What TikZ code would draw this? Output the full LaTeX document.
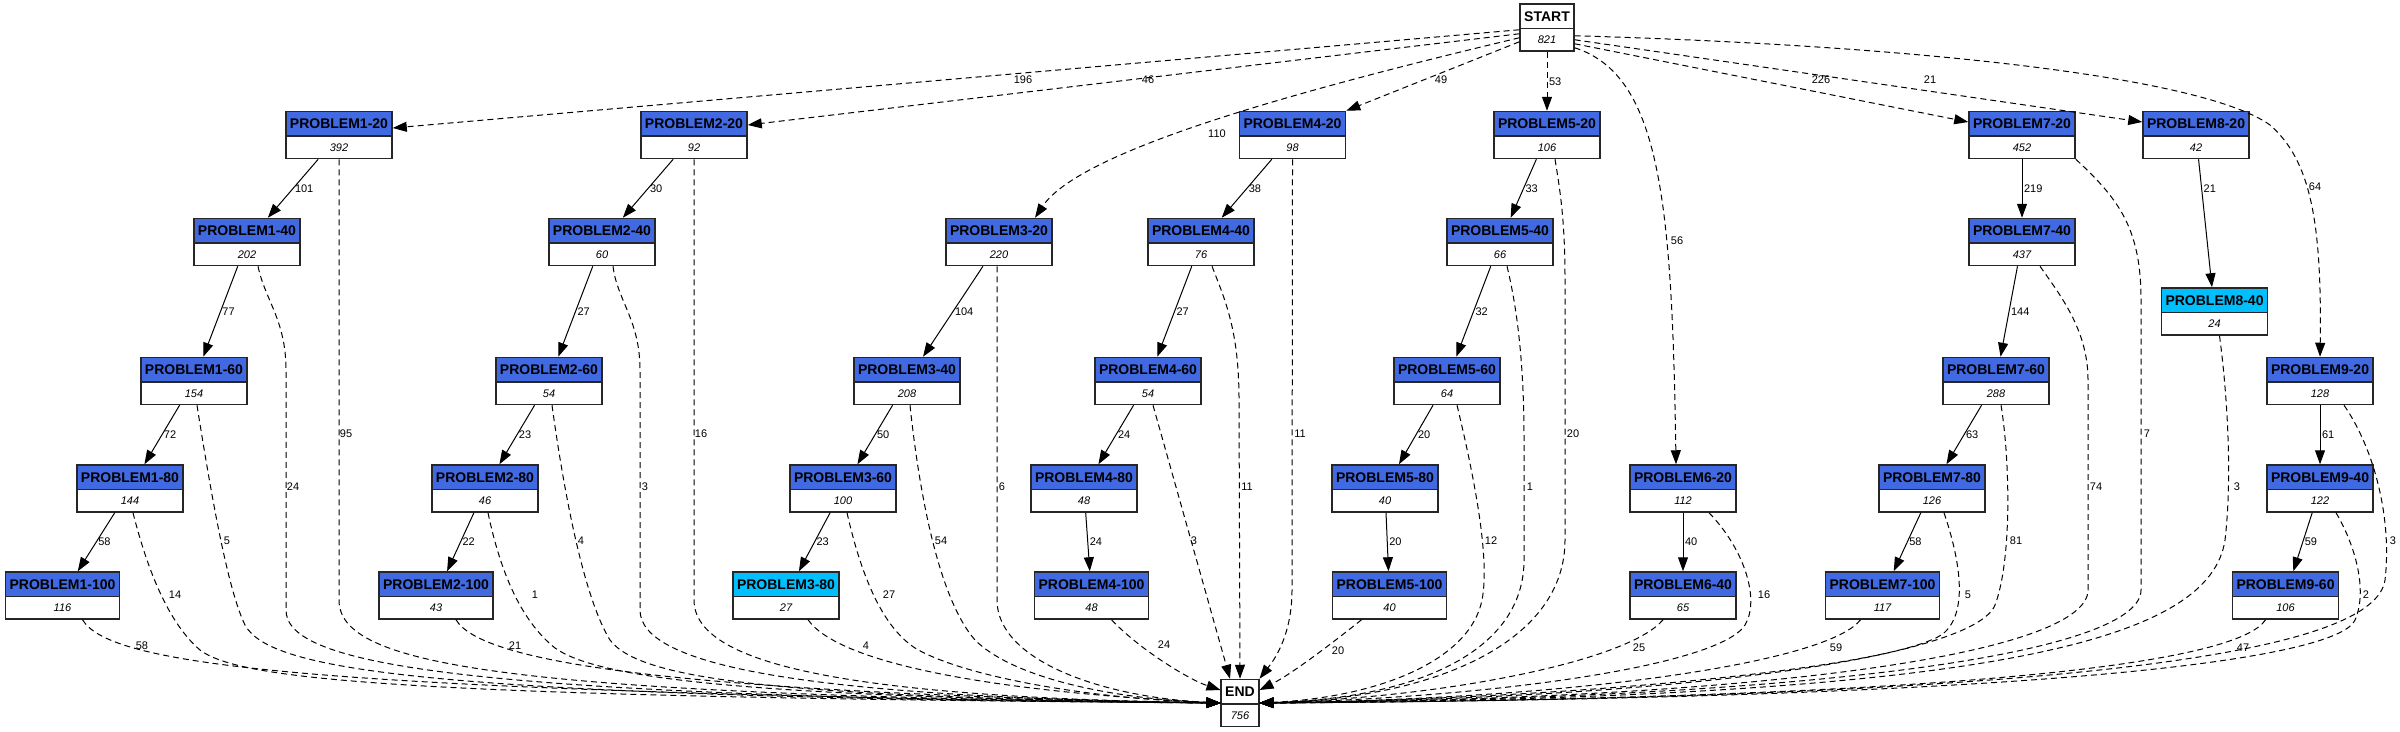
\documentclass[tikz,border=0pt]{standalone}
\usepackage{fontspec}
\setmainfont{Liberation Sans}
\usetikzlibrary{arrows.meta,shapes.multipart}
\definecolor{royal}{RGB}{65,105,225}
\definecolor{deepsky}{RGB}{0,191,255}
\newcommand{\probname}[1]{{\fontsize{14}{16}\selectfont\bfseries\rule[-6.5pt]{0pt}{23pt}#1}}
\newcommand{\probval}[1]{{\fontsize{11}{13}\selectfont\itshape\rule[-6.5pt]{0pt}{21pt}#1}}

\begin{document}
\begin{tikzpicture}[x=1pt,y=-1pt,
    prob/.style={rectangle split, rectangle split parts=2, draw=black!85, line width=1.5pt,
        inner xsep=4pt, inner ysep=0pt, rectangle split part fill={royal,white}},
    term/.style={prob, rectangle split part fill={white,white}},
    link/.style={line width=1pt, -{Triangle[length=14pt,width=10pt]}},
    dlink/.style={link, dash pattern=on 6pt off 4pt},
    lbl/.style={font=\fontsize{11}{13}\selectfont, inner sep=1.5pt}]

    \useasboundingbox (0,0) rectangle (2400,731);
    \fill[white] (0,0) rectangle (2400,731);

    % start and end
    \node[term] (start) at (1547,27.5) {\probname{START}\nodepart{two}\probval{821}};
    \node[term] (endbox) at (1240,703) {\probname{END}\nodepart{two}\probval{756}};

    % problem boxes
    \foreach \n/\x/\y/\v/\hue in {
            1-20/339/135/392/royal, 2-20/694/135/92/royal, 4-20/1292.5/135/98/royal,
            5-20/1547/135/106/royal, 7-20/2022/135/452/royal, 8-20/2196/135/42/royal,
            1-40/247/242/202/royal, 2-40/602/242/60/royal, 3-20/999/242/220/royal,
            4-40/1201/242/76/royal, 5-40/1500/242/66/royal, 7-40/2022/242/437/royal,
            8-40/2214.5/311.5/24/deepsky,
            1-60/194/381/154/royal, 2-60/549/381/54/royal, 3-40/907/381/208/royal,
            4-60/1148/381/54/royal, 5-60/1447/381/64/royal, 7-60/1996/381/288/royal,
            9-20/2320/381/128/royal,
            1-80/130/488.5/144/royal, 2-80/485/488.5/46/royal, 3-60/843/488.5/100/royal,
            4-80/1084/488.5/48/royal, 5-80/1385/488.5/40/royal, 6-20/1683/488.5/112/royal,
            7-80/1932/488.5/126/royal, 9-40/2320/488.5/122/royal,
            1-100/62.5/595.5/116/royal, 2-100/436/595.5/43/royal, 3-80/786/595.5/27/deepsky,
            4-100/1091.5/595.5/48/royal, 5-100/1389.5/595.5/40/royal, 6-40/1683/595.5/65/royal,
            7-100/1882.5/595.5/117/royal, 9-60/2285.5/595.5/106/royal} {
            \node[prob, rectangle split part fill={\hue,white}] (p\n) at (\x,\y)
                {\probname{PROBLEM\n}\nodepart{two}\probval{\v}};
        }

    % from START
    \draw[dlink] ([yshift=22pt]start.south west) -- ([yshift=7pt]p1-20.east) node[lbl] at (1023,80) {196};
    \draw[dlink] ([yshift=18pt]start.south west) -- ([yshift=10pt]p2-20.east) node[lbl] at (1148,80) {46};
    \draw[dlink] ([yshift=14pt]start.south west) .. controls (1300,90) and (1080,150) .. ([xshift=36pt]p3-20.north) node[lbl] at (1217,134) {110};
    \draw[dlink] ([yshift=10pt]start.south west) -- (p4-20.north east) node[lbl] at (1441,80) {49};
    \draw[dlink] (start) -- node[lbl,right] {53} (p5-20);
    \draw[dlink] ([yshift=4pt]start.south east) .. controls (1660,75) and (1672,200) .. ([xshift=-7pt]p6-20.north) node[lbl] at (1677,241) {56};
    \draw[dlink] ([yshift=8pt]start.south east) -- ([yshift=13pt]p7-20.west) node[lbl] at (1821,80) {226};
    \draw[dlink] ([yshift=12pt]start.south east) -- ([yshift=13pt]p8-20.west) node[lbl] at (1930,80) {21};
    \draw[dlink] ([yshift=16pt]start.south east) .. controls (1900,45) and (2200,75) .. (2270,125)
        .. controls (2310,160) and (2322,220) .. (p9-20.north) node[lbl] at (2315,187) {64};

    % next stage
    \foreach \a/\b/\n in {p1-20/p1-40/101, p1-40/p1-60/77, p1-60/p1-80/72, p1-80/p1-100/58,
            p2-20/p2-40/30, p2-40/p2-60/27, p2-60/p2-80/23, p2-80/p2-100/22,
            p3-20/p3-40/104, p3-40/p3-60/50, p3-60/p3-80/23,
            p4-20/p4-40/38, p4-40/p4-60/27, p4-60/p4-80/24, p4-80/p4-100/24,
            p5-20/p5-40/33, p5-40/p5-60/32, p5-60/p5-80/20, p5-80/p5-100/20,
            p6-20/p6-40/40, p7-20/p7-40/219, p7-40/p7-60/144, p7-60/p7-80/63, p7-80/p7-100/58,
            p9-20/p9-40/61, p9-40/p9-60/59} {
            \draw[link] (\a) -- node[lbl,right] {\n} (\b);
        }
    \draw[link] (p8-20) -- node[lbl,right,pos=0.23] {21} (p8-40);

    % to END, left side
    \draw[dlink] (p1-20.south) -- (339,600) .. controls (339,665) and (500,695) .. (endbox.west) node[lbl] at (346,434) {95};
    \draw[dlink] ([xshift=11pt]p1-40.south) .. controls (265,300) and (286,320) .. (286,370) -- (286,610)
        .. controls (286,665) and (460,697) .. (endbox.west) node[lbl] at (293,487) {24};
    \draw[dlink] ([xshift=3pt]p1-60.south) .. controls (212,500) and (228,590) .. (245,625)
        .. controls (270,670) and (420,697) .. (endbox.west) node[lbl] at (227,541) {5};
    \draw[dlink] ([xshift=3pt]p1-80.south) .. controls (145,560) and (165,620) .. (200,650)
        .. controls (240,680) and (400,697) .. (endbox.west) node[lbl] at (175,595) {14};
    \draw[dlink] ([xshift=20pt]p1-100.south) .. controls (110,665) and (300,692) .. (endbox.west) node[lbl] at (142,646) {58};
    \draw[dlink] (p2-20.south) -- (694,600) .. controls (694,665) and (850,697) .. (endbox.west) node[lbl] at (701,434) {16};
    \draw[dlink] ([xshift=11pt]p2-40.south) .. controls (617,300) and (640,320) .. (640,370) -- (640,610)
        .. controls (640,665) and (800,697) .. (endbox.west) node[lbl] at (645,487) {3};
    \draw[dlink] ([xshift=3pt]p2-60.south) .. controls (565,500) and (585,600) .. (610,640)
        .. controls (640,680) and (780,697) .. (endbox.west) node[lbl] at (581,541) {4};
    \draw[dlink] ([xshift=3pt]p2-80.south) .. controls (500,570) and (520,620) .. (555,648)
        .. controls (600,680) and (760,697) .. (endbox.west) node[lbl] at (535,595) {1};
    \draw[dlink] ([xshift=20pt]p2-100.south) .. controls (480,660) and (650,692) .. (endbox.west) node[lbl] at (515,646) {21};
    \draw[dlink] ([xshift=-2pt]p3-20.south) -- (997,600) .. controls (997,660) and (1100,697) .. (endbox.west) node[lbl] at (1002,487) {6};
    \draw[dlink] ([xshift=3pt]p3-40.south) .. controls (920,500) and (940,600) .. (975,640)
        .. controls (1010,675) and (1100,698) .. (endbox.west) node[lbl] at (941,541) {54};
    \draw[dlink] ([xshift=4pt]p3-60.south) .. controls (860,570) and (880,625) .. (915,648)
        .. controls (960,675) and (1080,698) .. (endbox.west) node[lbl] at (889,595) {27};
    \draw[dlink] ([xshift=22pt]p3-80.south) .. controls (840,665) and (1000,692) .. (endbox.west) node[lbl] at (866,646) {4};

    % to END, from above
    \draw[dlink] ([xshift=20pt]p4-100.south) .. controls (1140,650) and (1190,680) .. ([yshift=13pt]endbox.west) node[lbl] at (1164,645) {24};
    \draw[dlink] ([xshift=5pt]p4-60.south) -- ([xshift=-10pt]endbox.north) node[lbl] at (1194,541) {3};
    \draw[dlink] ([xshift=11pt]p4-40.south) .. controls (1225,300) and (1239,330) .. (1239,400) -- (endbox.north) node[lbl] at (1247,487) {11};
    \draw[dlink] (p4-20.south) -- (1292,590) .. controls (1292,640) and (1270,665) .. (endbox.north east) node[lbl] at (1300,434) {11};
    \draw[dlink] ([xshift=-28pt]p5-100.south) .. controls (1330,645) and (1290,675) .. ([yshift=13pt]endbox.east) node[lbl] at (1338,651) {20};

    % to END, right side
    \draw[dlink] ([xshift=10pt]p5-60.south) .. controls (1475,480) and (1490,560) .. (1482,600)
        .. controls (1470,660) and (1380,697) .. (endbox.east) node[lbl] at (1491,541) {12};
    \draw[dlink] ([xshift=7pt]p5-40.south) .. controls (1520,320) and (1524,380) .. (1524,440) -- (1524,560)
        .. controls (1524,650) and (1420,698) .. (endbox.east) node[lbl] at (1530,487) {1};
    \draw[dlink] ([xshift=8pt]p5-20.south) .. controls (1560,190) and (1565,220) .. (1565,280) -- (1565,540)
        .. controls (1565,640) and (1440,698) .. (endbox.east) node[lbl] at (1573,434) {20};
    \draw[dlink] ([xshift=26pt]p6-20.south) .. controls (1745,550) and (1760,600) .. (1745,625)
        .. controls (1720,665) and (1500,697) .. (endbox.east) node[lbl] at (1764,595) {16};
    \draw[dlink] ([xshift=-20pt]p6-40.south) .. controls (1630,660) and (1450,697) .. (endbox.east) node[lbl] at (1639,648) {25};
    \draw[dlink] ([xshift=-22pt]p7-100.south) .. controls (1830,660) and (1600,698) .. (endbox.east) node[lbl] at (1836,648) {59};
    \draw[dlink] ([xshift=12pt]p7-80.south) .. controls (1960,560) and (1968,610) .. (1945,632)
        .. controls (1910,665) and (1600,698) .. (endbox.east) node[lbl] at (1968,595) {5};
    \draw[dlink] ([xshift=5pt]p7-60.south) .. controls (2010,460) and (2012,560) .. (1995,605)
        .. controls (1975,655) and (1700,698) .. (endbox.east) node[lbl] at (2016,541) {81};
    \draw[dlink] ([xshift=18pt]p7-40.south) .. controls (2060,295) and (2088,330) .. (2088,380) -- (2088,590)
        .. controls (2088,650) and (1800,698) .. (endbox.east) node[lbl] at (2096,487) {74};
    \draw[dlink] (p7-20.south east) .. controls (2120,200) and (2141,230) .. (2141,300) -- (2141,590)
        .. controls (2141,650) and (1850,698) .. (endbox.east) node[lbl] at (2147,434) {7};
    \draw[dlink] ([xshift=5pt]p8-40.south) .. controls (2228,400) and (2232,480) .. (2225,540)
        .. controls (2210,640) and (2000,698) .. (endbox.east) node[lbl] at (2237,487) {3};
    \draw[dlink] ([xshift=24pt]p9-20.south) .. controls (2375,450) and (2392,520) .. (2385,580)
        .. controls (2375,650) and (2100,698) .. (endbox.east) node[lbl] at (2393,541) {3};
    \draw[dlink] ([xshift=16pt]p9-40.south) .. controls (2355,545) and (2368,590) .. (2355,620)
        .. controls (2340,655) and (2100,698) .. (endbox.east) node[lbl] at (2366,595) {2};
    \draw[dlink] ([xshift=-20pt]p9-60.south) .. controls (2240,660) and (2000,698) .. (endbox.east) node[lbl] at (2243,648) {47};
\end{tikzpicture}
\end{document}
